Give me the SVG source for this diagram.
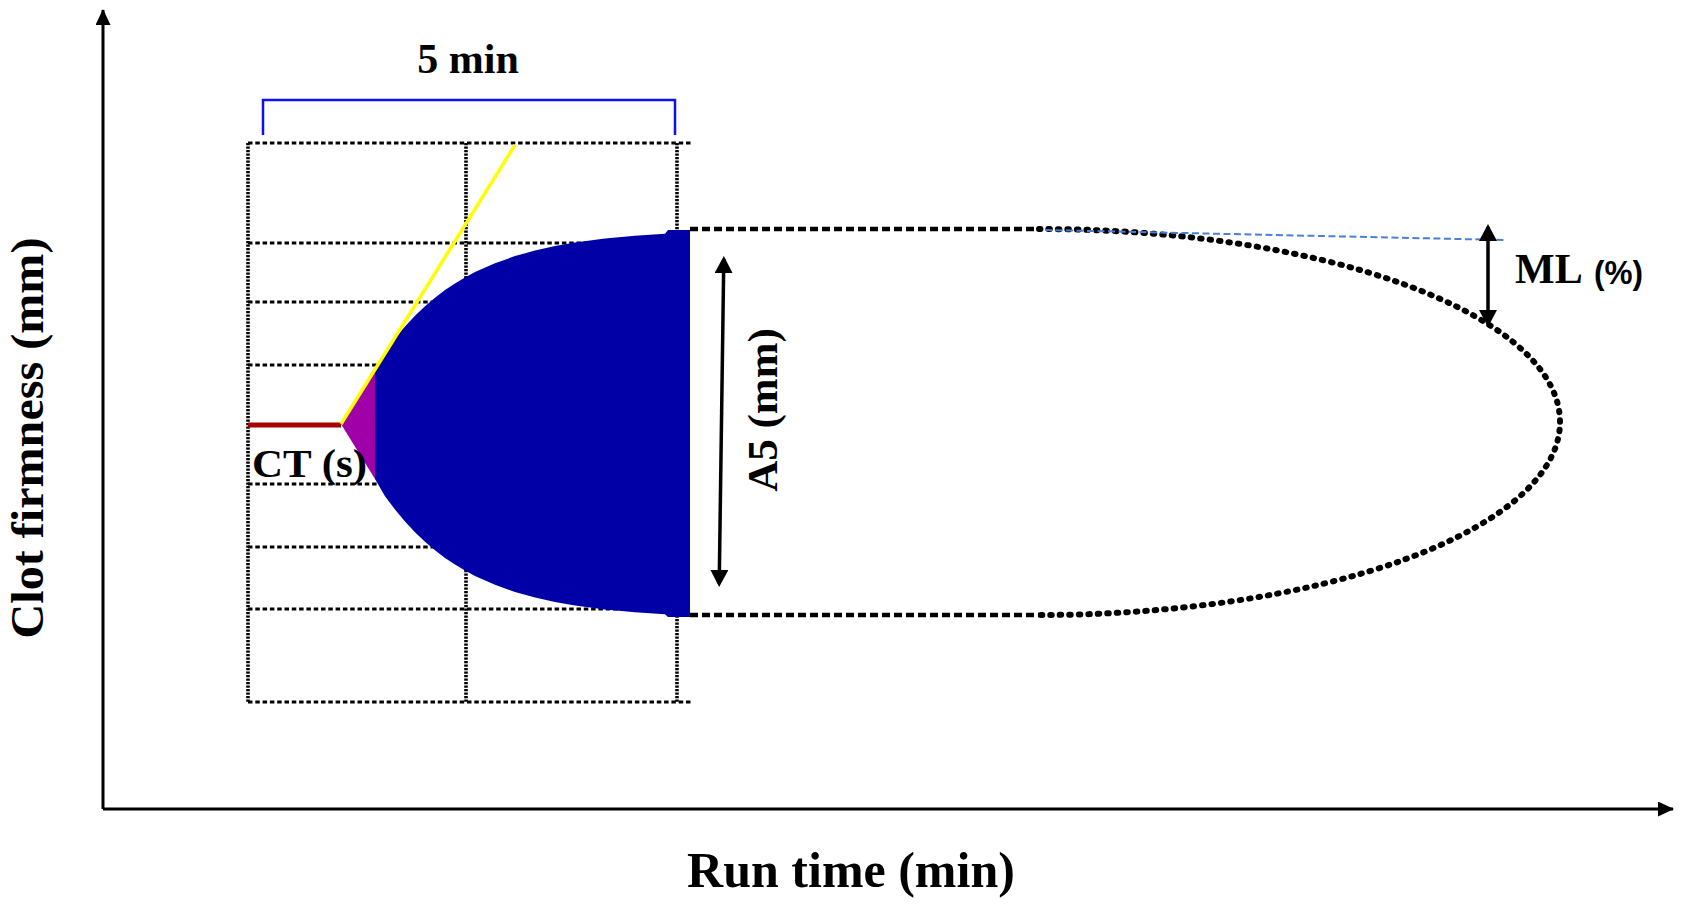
<svg xmlns="http://www.w3.org/2000/svg" width="1683" height="905" viewBox="0 0 1683 905">
<style>
.t{font-family:"Liberation Serif","Times New Roman",serif;font-weight:bold;fill:#000}
.ts{font-family:"Liberation Sans",Arial,sans-serif;font-weight:bold;fill:#000}
.gh{stroke:#000;stroke-width:3.2;stroke-dasharray:4.5 2.8;fill:none}
.gv{stroke:#000;stroke-width:3.6;stroke-dasharray:2.2 1.3;fill:none}
.sq{stroke:#000;stroke-width:4.5;stroke-dasharray:8 4;fill:none}
.dot{stroke:#000;stroke-width:6;stroke-dasharray:1.5 8;stroke-linecap:round;fill:none}
.axis{stroke:#000;stroke-width:3;fill:none}
.dim{stroke:#000;stroke-width:3.5;fill:none}
</style>
<defs>
<marker id="ax" viewBox="0 0 16 15" refX="15" refY="7.5" markerWidth="16" markerHeight="15" markerUnits="userSpaceOnUse" orient="auto"><path d="M0,0 L16,7.5 L0,15 z" fill="#000"/></marker>
<marker id="ah" viewBox="0 0 17 18" refX="14" refY="9" markerWidth="17" markerHeight="18" markerUnits="userSpaceOnUse" orient="auto-start-reverse"><path d="M0,0 L17,9 L0,18 z" fill="#000"/></marker>
</defs>

<g id="grid">
<path class="gh" d="M248,143H691 M248,243H677 M248,302H677 M248,365H677 M248,484H677 M248,547H677 M248,609H677 M248,702H691"/>
<path class="gv" d="M248,143V702 M466,143V702 M677,143V702"/>
</g>

<g id="bracket">
<path d="M263,135V100H675V135" stroke="#1010ee" stroke-width="2.5" fill="none"/>
<text class="t" x="468" y="73" font-size="42" text-anchor="middle">5 min</text>
</g>

<g id="clot-curve">
<path d="M375,369.5 L385,351.8 L395,338.4 L405,326.4 L415,315.7 L425,306.2 L435,297.7 L445,290.1 L455,283.4 L465,277.5 L475,272.1 L495,263.2 L515,256.1 L535,250.5 L555,246 L575,242.5 L605,238.5 L635,235.7 L665,233.7 L668,230 L690,230 L690,617 L668,617 L665,614.3 L635,612.3 L605,609.5 L575,605.5 L555,602 L535,597.5 L515,591.9 L495,584.8 L475,575.9 L465,570.5 L455,564.6 L445,557.9 L435,550.3 L425,541.8 L415,532.3 L405,521.6 L395,509.6 L385,496.2 L375,479 Z" fill="#0000a6"/>
<path d="M341,424 L375,369.5 L375,479 Z" fill="#a000a8"/>
<line x1="248" y1="425" x2="341" y2="425" stroke="#a80000" stroke-width="5"/>
<line x1="341" y1="424" x2="515" y2="145" stroke="#ffff00" stroke-width="3.5"/>
</g>

<g id="ct-label">
<text class="t" x="252" y="477" font-size="40" textLength="115" lengthAdjust="spacingAndGlyphs">CT (s)</text>
</g>

<g id="lysis-outline">
<path class="sq" d="M690,229H1039 M690,615H1039"/>
<path class="dot" d="M1039,229 A521,193 0 0 1 1560,422 A521,193 0 0 1 1039,615"/>
<line x1="1045" y1="230" x2="1505" y2="240" stroke="#4a7fd8" stroke-width="2" stroke-dasharray="7 3.5"/>
</g>

<g id="connectors">
<line class="axis" x1="103" y1="809" x2="103" y2="10" marker-end="url(#ax)"/>
<line class="axis" x1="103" y1="809" x2="1673" y2="809" marker-end="url(#ax)"/>
<line class="dim" x1="723.8" y1="259" x2="719.2" y2="584" marker-start="url(#ah)" marker-end="url(#ah)"/>
<line class="dim" x1="1488" y1="227" x2="1488" y2="324" marker-start="url(#ah)" marker-end="url(#ah)"/>
</g>

<g id="a5-label">
<text class="t" x="777" y="410" font-size="43" text-anchor="middle" transform="rotate(-90 777 410)">A5 (mm)</text>
</g>

<g id="ml-label">
<text class="t" x="1515" y="283" font-size="42">ML</text>
<text class="ts" x="1594" y="284" font-size="34" textLength="49" lengthAdjust="spacingAndGlyphs">(%)</text>
</g>

<g id="y-label">
<text class="t" x="43" y="438" font-size="47" text-anchor="middle" transform="rotate(-90 43 438)" textLength="401" lengthAdjust="spacingAndGlyphs">Clot firmness (mm)</text>
</g>

<g id="x-label">
<text class="t" x="851" y="887" font-size="50" text-anchor="middle">Run time (min)</text>
</g>
</svg>
